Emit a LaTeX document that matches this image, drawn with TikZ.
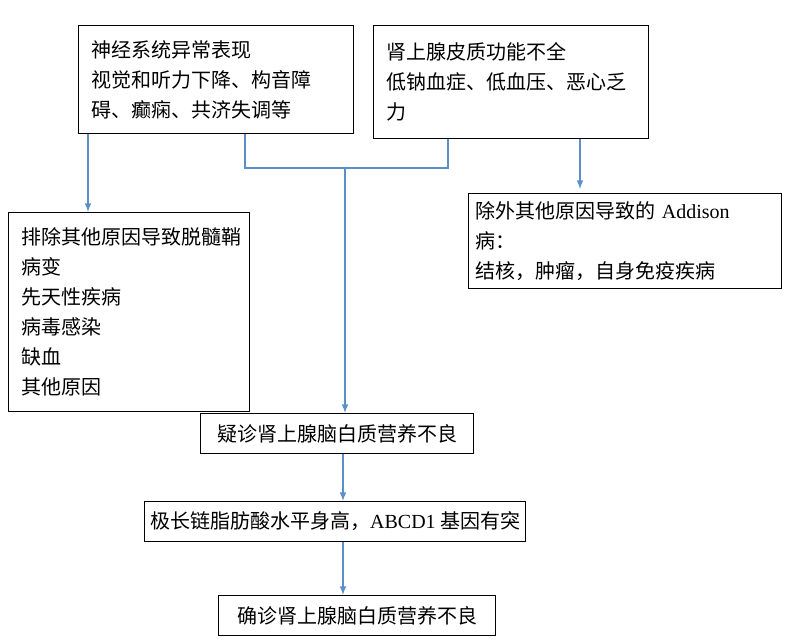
\documentclass[tikz,border=0pt]{standalone}
\usepackage{fontspec}
\setmainfont{Noto Sans CJK SC}
\newfontfamily\latfont{Liberation Serif}
\usetikzlibrary{positioning}
\definecolor{linkblue}{HTML}{5B8FC7}

\begin{document}
\begin{tikzpicture}[x=0.75pt,y=-0.75pt,
  box/.style={draw,thick,anchor=north west,align=left,inner xsep=10pt,inner ysep=6pt,
    font=\fontsize{15}{22.5}\selectfont},
  cbox/.style={draw,thick,anchor=north west,align=center,inner sep=0pt,
    font=\fontsize{15}{22.5}\selectfont},
  link/.style={draw=linkblue,line width=1.2pt},
  arr/.style={link,-latex}]
\useasboundingbox (0,0) rectangle (789,643);
% top boxes
\node[box,minimum width=206pt,minimum height=81pt,text width=186pt] (nerve) at (78,25)
  {神经系统异常表现\\视觉和听力下降、构音障\\碍、癫痫、共济失调等};
\node[box,minimum width=206pt,minimum height=85pt,text width=186pt] (adrenal) at (373,25)
  {肾上腺皮质功能不全\\低钠血症、低血压、恶心乏\\力};
% side boxes
\node[box,minimum width=181pt,minimum height=149pt,text width=161pt] (exclude) at (8,212)
  {排除其他原因导致脱髓鞘\\病变\\先天性疾病\\病毒感染\\缺血\\其他原因};
\node[box,inner xsep=5pt,minimum width=235pt,minimum height=52pt,text width=225pt] (addison) at (468,193)
  {除外其他原因导致的 {\latfont Addison} 病：\\结核，肿瘤，自身免疫疾病};
% main chain
\node[cbox,minimum width=205pt,minimum height=30pt] (suspect) at (200,413) {疑诊肾上腺脑白质营养不良};
\node[cbox,minimum width=286pt,minimum height=30pt] (vlcfa) at (144,501) {极长链脂肪酸水平身高，{\latfont ABCD1} 基因有突};
\node[cbox,minimum width=208pt,minimum height=30pt] (confirm) at (218,595) {确诊肾上腺脑白质营养不良};
% connectors
\coordinate (jl) at (245,168);
\coordinate (jr) at (448,168);
\coordinate (jm) at (345,168);
\draw[link] (nerve.south -| jl) -- (jl) -- (jr) -- (adrenal.south -| jr);
\draw[arr] (jm) -- (suspect.north -| jm);
\draw[arr] (nerve.south -| 88,0) -- (exclude.north -| 88,0);
\draw[arr] (adrenal.south -| 580,0) -- ([yshift=3pt]addison.north -| 580,0);
\draw[arr] (suspect.south -| 343,0) -- (vlcfa.north -| 343,0);
\draw[arr] (vlcfa.south -| 343,0) -- (confirm.north -| 343,0);
\end{tikzpicture}
\end{document}
